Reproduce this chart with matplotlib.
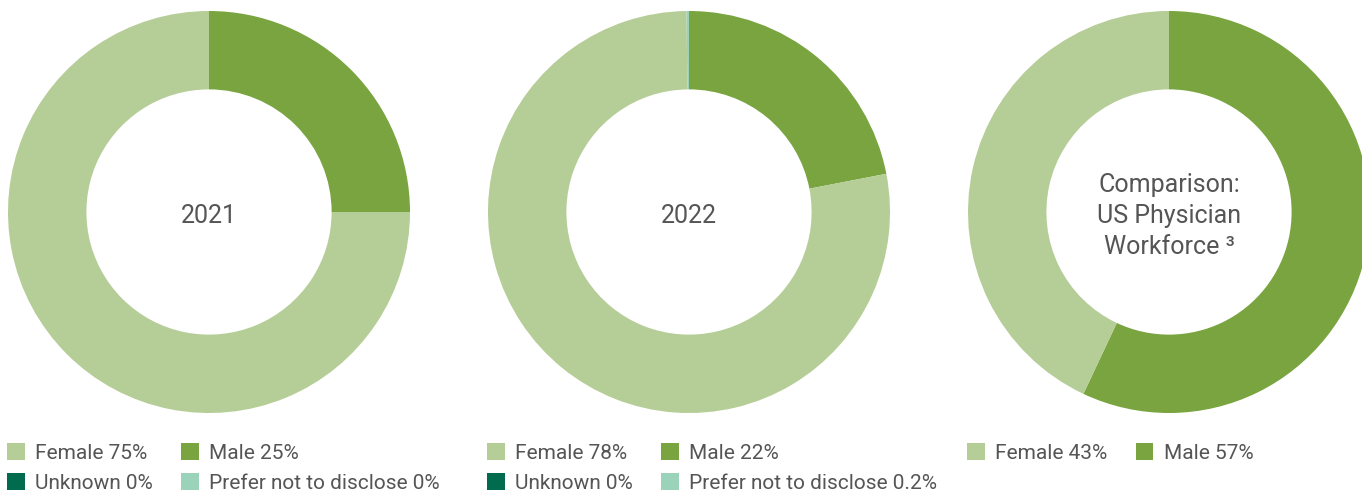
import matplotlib
matplotlib.use('Agg')
import matplotlib.pyplot as plt
from matplotlib.patches import Patch

plt.rcParams['font.family'] = ['Roboto', 'DejaVu Sans']

# chart data
titles = ['2021', '2022', 'Comparison:\nUS Physician\nWorkforce ³']
categories = ['Male', 'Female', 'Unknown', 'Prefer not to disclose']
values_2021 = [25, 75, 0, 0]
values_2022 = [22, 78, 0, 0.2]
values_us = [57, 43]
legend_2021 = ['Female 75%', 'Male 25%', 'Unknown 0%', 'Prefer not to disclose 0%']
legend_2022 = ['Female 78%', 'Male 22%', 'Unknown 0%', 'Prefer not to disclose 0.2%']
legend_us = ['Female 43%', 'Male 57%']

colors = {'Female': '#b5cd96', 'Male': '#79a43f',
          'Unknown': '#006b4f', 'Prefer not to disclose': '#9ad3ba'}
txt_color = '#555555'

W, H = 1362, 494
fig = plt.figure(figsize=(W / 100, H / 100), dpi=100)

centers = [209, 689, 1169]
R = 201
cy = H - 212
all_vals = [values_2021, values_2022, values_us]
all_leg = [legend_2021, legend_2022, legend_us]

for cx, title, vals, labs in zip(centers, titles, all_vals, all_leg):
    ax = fig.add_axes([(cx - R) / W, (cy - R) / H, 2 * R / W, 2 * R / H])
    cats = categories[:len(vals)]
    ax.pie(vals, colors=[colors[c] for c in cats], startangle=90, counterclock=False,
           radius=1, wedgeprops=dict(width=0.39, linewidth=0))
    ax.set_xlim(-1, 1)
    ax.set_ylim(-1, 1)
    ax.set_aspect('equal')
    ax.axis('off')
    ax.text(0, -0.02, title, ha='center', va='center', fontsize=18, color=txt_color,
            linespacing=1.36)

    # legend order: Female, Male, Unknown, Prefer
    order = ['Female', 'Male', 'Unknown', 'Prefer not to disclose'][:len(labs)]
    handles = [Patch(facecolor=colors[c], edgecolor='none') for c in order]
    # ncol=2 fills column-wise, so reorder for row-wise display
    if len(handles) == 4:
        idx = [0, 2, 1, 3]
        handles = [handles[i] for i in idx]
        labs = [labs[i] for i in idx]
    fig.legend(handles, labs, loc='upper left',
               bbox_to_anchor=((cx - R - 1) / W, (H - 443) / H),
               ncol=2, frameon=False, fontsize=15, labelcolor=txt_color,
               handlelength=0.85, handleheight=0.85, handletextpad=0.5,
               columnspacing=1.35, labelspacing=0.52, borderpad=0, borderaxespad=0)

fig.savefig('out.png', dpi=100)
